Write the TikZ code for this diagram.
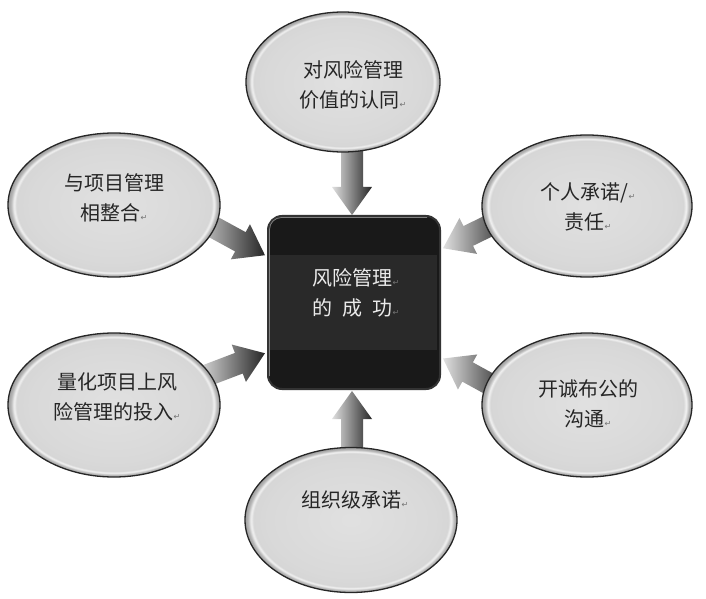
\documentclass[tikz,border=0pt]{standalone}
\usepackage{fontspec}
\setmainfont{Noto Sans CJK SC}
\newfontfamily\symfont{DejaVu Sans}
\usetikzlibrary{shapes.geometric,calc}
\pgfdeclarelayer{paper}
\pgfdeclarelayer{arrows}
\pgfsetlayers{paper,arrows,main}
\pgfdeclareradialshading{ellrim}{\pgfpoint{0bp}{0bp}}{color(0bp)=(black!12); color(20bp)=(black!15); color(23bp)=(black!16); color(23.6bp)=(black!5); color(24.3bp)=(black!28); color(25bp)=(black!38); color(50bp)=(black!38)}
\newcommand\pmark{{\symfont\fontsize{8bp}{8bp}\selectfont\color{black!55}↵}}
\newcommand\blockarr[2]{%
  \pgfpointdiff{\pgfpointanchor{#1}{center}}{\pgfpointanchor{#2}{center}}%
  \pgfgetlastxy{\arrdx}{\arrdy}%
  \pgfmathsetmacro\arrang{atan2(\arrdy,\arrdx)}%
  \pgfmathsetmacro\arrlen{veclen(\arrdx,\arrdy)}%
  \begin{scope}[shift={(#1)},rotate=\arrang]
    \shade[left color=black!12,right color=black!85]
      (0pt,-11bp) -- (\arrlen pt-28bp,-11bp) -- (\arrlen pt-28bp,-20bp) -- (\arrlen pt,0pt)
      -- (\arrlen pt-28bp,20bp) -- (\arrlen pt-28bp,11bp) -- (0pt,11bp) -- cycle;
  \end{scope}}
\begin{document}
\begin{tikzpicture}[x=1bp,y=-1bp,
  ell/.style={ellipse, draw=black!85, line width=1.3bp, shade, shading=ellrim, inner sep=0pt},
  txt/.style={font=\fontsize{20bp}{30bp}\selectfont, align=center, text=black!85, inner sep=0pt},
  ]
\begin{pgfonlayer}{paper}
\fill[white] (0,0) rectangle (706,599);
\end{pgfonlayer}
\useasboundingbox (0,0) rectangle (706,599);
% outer ellipses
\node[ell, minimum width=194bp, minimum height=140bp] (T)  at (343,82)  {};
\node[ell, minimum width=212bp, minimum height=144bp] (UL) at (114,205) {};
\node[ell, minimum width=210bp, minimum height=142bp] (UR) at (587,206) {};
\node[ell, minimum width=212bp, minimum height=144bp] (LL) at (114,405) {};
\node[ell, minimum width=210bp, minimum height=144bp] (LR) at (587,405) {};
\node[ell, minimum width=212bp, minimum height=145bp] (B)  at (351,520) {};
% centre box
\node[draw=black!80, line width=2bp, fill=black!90, rounded corners=14bp,
      minimum width=172bp, minimum height=173bp, inner sep=0pt] (box) at (354,302.5) {};
\draw[black!50, line width=0.8bp, rounded corners=12bp]
  ($(box.south west)+(2.5,-14)$) -- ($(box.north west)+(2.5,2.5)$) -- ($(box.north east)+(-14,2.5)$);
\fill[black!84] ($(box.west)+(3,-47.5)$) rectangle ($(box.east)+(-4,47.5)$);
\node[txt, text=white!92!black] (tBox) at (356,293) {风险管理\pmark\\的\hspace{0.5em}成\hspace{0.5em}功\pmark};
% texts
\node[txt] (tT)  at (353,85)  {对风险管理\\价值的认同\pmark};
\node[txt] (tUL) at (114,198) {与项目管理\\相整合\pmark};
\node[txt] (tUR) at (588,207) {个人承诺/\pmark\\责任\pmark};
\node[txt] (tLL) at (117,397) {量化项目上风\\险管理的投入\pmark};
\node[txt] (tLR) at (588,404) {开诚布公的\\沟通\pmark};
\node[txt] (tB)  at (355,500) {组织级承诺\pmark};
% arrow end points
\coordinate (aT1)  at ($(T.center)+(9,58)$);
\coordinate (aT2)  at ($(box.north)+(-2,0)$);
\coordinate (aB1)  at ($(B.center)+(1,-60)$);
\coordinate (aB2)  at ($(box.south)+(-2,1)$);
\coordinate (aUL1) at ($(UL.center)+(81,12)$);
\coordinate (aUL2) at ($($(box.north west)!0.23!(box.south west)$)+(-2,0)$);
\coordinate (aLL1) at ($(LL.center)+(86,-27)$);
\coordinate (aLL2) at ($($(box.north west)!0.79!(box.south west)$)+(-2,0)$);
\coordinate (aUR1) at ($(UR.center)+(-82,12)$);
\coordinate (aUR2) at ($($(box.north east)!0.19!(box.south east)$)+(2,0)$);
\coordinate (aLR1) at ($(LR.center)+(-83,-13)$);
\coordinate (aLR2) at ($($(box.north east)!0.82!(box.south east)$)+(2,0)$);
\begin{pgfonlayer}{arrows}
\blockarr{aT1}{aT2}
\blockarr{aB1}{aB2}
\blockarr{aUL1}{aUL2}
\blockarr{aLL1}{aLL2}
\blockarr{aUR1}{aUR2}
\blockarr{aLR1}{aLR2}
\end{pgfonlayer}
\end{tikzpicture}
\end{document}
